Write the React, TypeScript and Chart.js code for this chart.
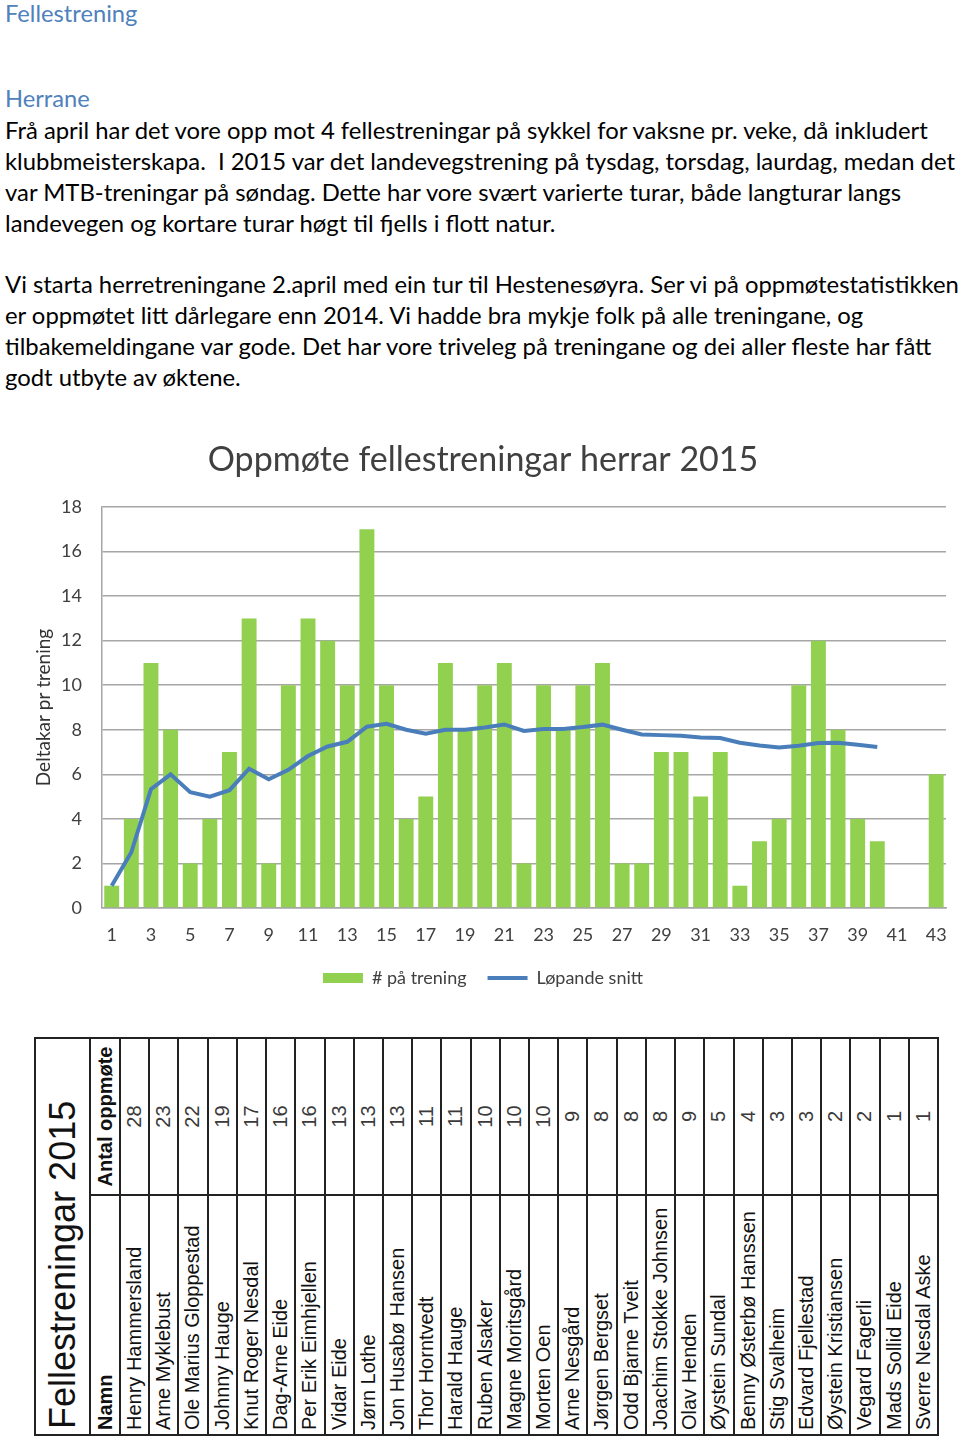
import React, { useEffect, useRef } from "react";
import { Chart, registerables } from "chart.js";

Chart.register(...registerables);

// ---- Chart data ----
const categories = [
  "1", "2", "3", "4", "5", "6", "7", "8", "9", "10",
  "11", "12", "13", "14", "15", "16", "17", "18", "19", "20",
  "21", "22", "23", "24", "25", "26", "27", "28", "29", "30",
  "31", "32", "33", "34", "35", "36", "37", "38", "39", "40",
  "41", "42", "43",
];
const attendance = [
  1, 4, 11, 8, 2, 4, 7, 13, 2, 10,
  13, 12, 10, 17, 10, 4, 5, 11, 8, 10,
  11, 2, 10, 8, 10, 11, 2, 2, 7, 7,
  5, 7, 1, 3, 4, 10, 12, 8, 4, 3,
  0, 0, 6,
];
const runningAverage = [
  1.0, 2.5, 5.33, 6.0, 5.2, 5.0, 5.29, 6.25, 5.78, 6.2,
  6.82, 7.25, 7.46, 8.14, 8.27, 8.0, 7.82, 8.0, 8.0, 8.1,
  8.24, 7.95, 8.04, 8.04, 8.12, 8.23, 8.0, 7.79, 7.76, 7.73,
  7.65, 7.63, 7.42, 7.29, 7.2, 7.28, 7.41, 7.42, 7.33, 7.23,
];
const chartTitle = "Oppmøte fellestreningar herrar 2015";
const yAxisTitle = "Deltakar pr trening";
const barLabel = "# på trening";
const lineLabel = "Løpande snitt";

// ---- Table data ----
const tableTitle = "Fellestreningar 2015";
const nameHeader = "Namn";
const countHeader = "Antal oppmøte";
const names = [
  "Henry Hammersland", "Arne Myklebust", "Ole Marius Gloppestad", "Johnny Hauge",
  "Knut Roger Nesdal", "Dag-Arne Eide", "Per Erik Eimhjellen", "Vidar Eide",
  "Jørn Lothe", "Jon Husabø Hansen", "Thor Horntvedt", "Harald Hauge",
  "Ruben Alsaker", "Magne Moritsgård", "Morten Oen", "Arne Nesgård",
  "Jørgen Bergset", "Odd Bjarne Tveit", "Joachim Stokke Johnsen", "Olav Henden",
  "Øystein Sundal", "Benny Østerbø Hanssen", "Stig Svalheim", "Edvard Fjellestad",
  "Øystein Kristiansen", "Vegard Fagerli", "Mads Sollid Eide", "Sverre Nesdal Aske",
];
const counts = [
  28, 23, 22, 19, 17, 16, 16, 13, 13, 13, 11, 11, 10, 10,
  10, 9, 8, 8, 8, 9, 5, 4, 3, 3, 2, 2, 1, 1,
];

// ---- Text ----
const heading1 = "Fellestrening";
const heading2 = "Herrane";
const paragraph1 = [
  "Frå april har det vore opp mot 4 fellestreningar på sykkel for vaksne pr. veke, då inkludert",
  "klubbmeisterskapa.  I 2015 var det landevegstrening på tysdag, torsdag, laurdag, medan det",
  "var MTB-treningar på søndag. Dette har vore svært varierte turar, både langturar langs",
  "landevegen og kortare turar høgt til fjells i flott natur.",
];
const paragraph2 = [
  "Vi starta herretreningane 2.april med ein tur til Hestenesøyra. Ser vi på oppmøtestatistikken",
  "er oppmøtet litt dårlegare enn 2014. Vi hadde bra mykje folk på alle treningane, og",
  "tilbakemeldingane var gode. Det har vore triveleg på treningane og dei aller fleste har fått",
  "godt utbyte av øktene.",
];

const textFont = "Lato, 'Open Sans', sans-serif";
const tableFont = "'Liberation Sans', Arial, sans-serif";

function TextLine({ text, center, size, color }: { text: string; center: number; size: number; color: string }) {
  const lh = 30;
  return (
    <div
      style={{
        position: "absolute",
        left: 5,
        top: center - lh / 2,
        height: lh,
        lineHeight: lh + "px",
        fontSize: size,
        fontFamily: textFont,
        color,
        whiteSpace: "pre",
      }}
    >
      {text}
    </div>
  );
}

// A text box rotated so it reads bottom-to-top, placed at page rect (x, y, w, h)
function RotText({
  x, y, w, h, text, align, font, pad, color,
}: {
  x: number; y: number; w: number; h: number; text: string; align: "start" | "center";
  font: string; pad: number; color: string;
}) {
  return (
    <div style={{ position: "absolute", left: x, top: y, width: w, height: h, overflow: "hidden" }}>
      <div
        style={{
          position: "absolute",
          left: 0,
          top: h,
          width: h,
          height: w,
          transformOrigin: "0 0",
          transform: "rotate(-90deg)",
          display: "flex",
          alignItems: "center",
          justifyContent: align === "start" ? "flex-start" : "center",
          paddingLeft: pad,
          boxSizing: "border-box",
          font,
          color,
          whiteSpace: "nowrap",
        }}
      >
        {text}
      </div>
    </div>
  );
}

function AttendanceChart() {
  const ref = useRef<HTMLCanvasElement | null>(null);
  useEffect(() => {
    if (!ref.current) return;
    const chart = new Chart(ref.current, {
      type: "bar",
      data: {
        labels: categories,
        datasets: [
          {
            type: "line",
            label: lineLabel,
            data: runningAverage,
            borderColor: "#4a7ebb",
            backgroundColor: "#4a7ebb",
            borderWidth: 4,
            pointRadius: 0,
            pointStyle: "line",
            tension: 0,
            order: 0,
          } as any,
          {
            type: "bar",
            label: barLabel,
            data: attendance,
            backgroundColor: "#92d050",
            borderWidth: 0,
            barPercentage: 0.76,
            categoryPercentage: 1,
            pointStyle: "rect",
            order: 1,
          } as any,
        ],
      },
      options: {
        animation: false,
        responsive: false,
        maintainAspectRatio: false,
        layout: { padding: { left: 0, right: 14, top: 0, bottom: 0 } },
        plugins: {
          title: {
            display: true,
            text: chartTitle,
            color: "#404040",
            font: { family: "Lato", size: 34, weight: "normal" },
            padding: { top: 9.6, bottom: 26.6 },
          },
          legend: {
            position: "bottom",
            reverse: true,
            labels: {
              usePointStyle: true,
              pointStyleWidth: 40,
              boxHeight: 10,
              padding: 21,
              color: "#404040",
              font: { family: "Lato", size: 18 },
            },
          },
          tooltip: { enabled: false },
        },
        scales: {
          x: {
            grid: { display: false, drawTicks: true, tickLength: 13.6 },
            border: { display: true, color: "#a6a6a6", width: 1.5 },
            ticks: {
              autoSkip: false,
              maxRotation: 0,
              padding: 2.4,
              color: "#404040",
              font: { family: "Lato", size: 18 },
              callback: (_v: any, i: number) => (i % 2 === 0 ? categories[i] : ""),
            },
          },
          y: {
            min: 0,
            max: 18,
            ticks: {
              stepSize: 2,
              padding: 20,
              color: "#404040",
              font: { family: "Lato", size: 18 },
            },
            grid: { color: "#a6a6a6", lineWidth: 1.5, drawTicks: false },
            border: { display: true, color: "#a6a6a6", width: 1.5 },
            title: {
              display: true,
              text: yAxisTitle,
              color: "#333333",
              font: { family: "Lato", size: 19 },
              padding: { top: 12.6, bottom: -14.4 },
            },
          },
        },
      },
    });
    return () => chart.destroy();
  }, []);
  return (
    <canvas
      ref={ref}
      width={940}
      height={567}
      style={{ position: "absolute", left: 20, top: 430, width: 940, height: 567 }}
    />
  );
}

function Table() {
  const left = 35, top = 1038, right = 938, bottom = 1435;
  const splitY = 1195;
  const titleR = 90;
  const headR = 120;
  const colW = (right - headR) / names.length;
  const lineColor = "#222";
  const lw = 2;
  const els: React.ReactNode[] = [];
  const vline = (x: number, y0: number, y1: number, k: string) =>
    els.push(<div key={k} style={{ position: "absolute", left: x - lw / 2, top: y0 - lw / 2, width: lw, height: y1 - y0 + lw, background: lineColor }} />);
  const hline = (y: number, x0: number, x1: number, k: string) =>
    els.push(<div key={k} style={{ position: "absolute", left: x0 - lw / 2, top: y - lw / 2, width: x1 - x0 + lw, height: lw, background: lineColor }} />);

  els.push(
    <RotText key="title" x={left} y={top} w={titleR - left} h={bottom - top} text={tableTitle}
      align="start" pad={6} font={`36px ${tableFont}`} color="#111" />
  );
  els.push(
    <RotText key="ch" x={titleR} y={top} w={headR - titleR} h={splitY - top} text={countHeader}
      align="center" pad={0} font={`bold 20px ${tableFont}`} color="#111" />
  );
  els.push(
    <RotText key="nh" x={titleR} y={splitY} w={headR - titleR} h={bottom - splitY} text={nameHeader}
      align="start" pad={5} font={`bold 20px ${tableFont}`} color="#111" />
  );
  names.forEach((n, i) => {
    const x = headR + i * colW;
    els.push(
      <RotText key={"c" + i} x={x} y={top} w={colW} h={splitY - top} text={String(counts[i])}
        align="center" pad={0} font={`20px ${tableFont}`} color="#3a3a3a" />
    );
    els.push(
      <RotText key={"n" + i} x={x} y={splitY} w={colW} h={bottom - splitY} text={n}
        align="start" pad={5} font={`20px ${tableFont}`} color="#111" />
    );
  });
  // grid lines
  hline(top, left, right, "ht");
  hline(bottom, left, right, "hb");
  hline(splitY, titleR, right, "hs");
  vline(left, top, bottom, "vl");
  vline(titleR, top, bottom, "vt");
  for (let i = 0; i <= names.length; i++) {
    vline(headR + i * colW, top, bottom, "v" + i);
  }
  return <div style={{ position: "absolute", left: 0, top: 0 }}>{els}</div>;
}

export default function App() {
  return (
    <div style={{ position: "absolute", left: 0, top: 0, width: 960, height: 1438, background: "#fff", overflow: "hidden" }}>
      <TextLine text={heading1} center={13} size={23.7} color="#4f81bd" />
      <TextLine text={heading2} center={98} size={23.7} color="#4f81bd" />
      {paragraph1.map((t, i) => (
        <TextLine key={"p1" + i} text={t} center={130 + i * 31} size={23.85} color="#000" />
      ))}
      {paragraph2.map((t, i) => (
        <TextLine key={"p2" + i} text={t} center={284 + i * 31} size={23.85} color="#000" />
      ))}
      <AttendanceChart />
      <Table />
    </div>
  );
}
